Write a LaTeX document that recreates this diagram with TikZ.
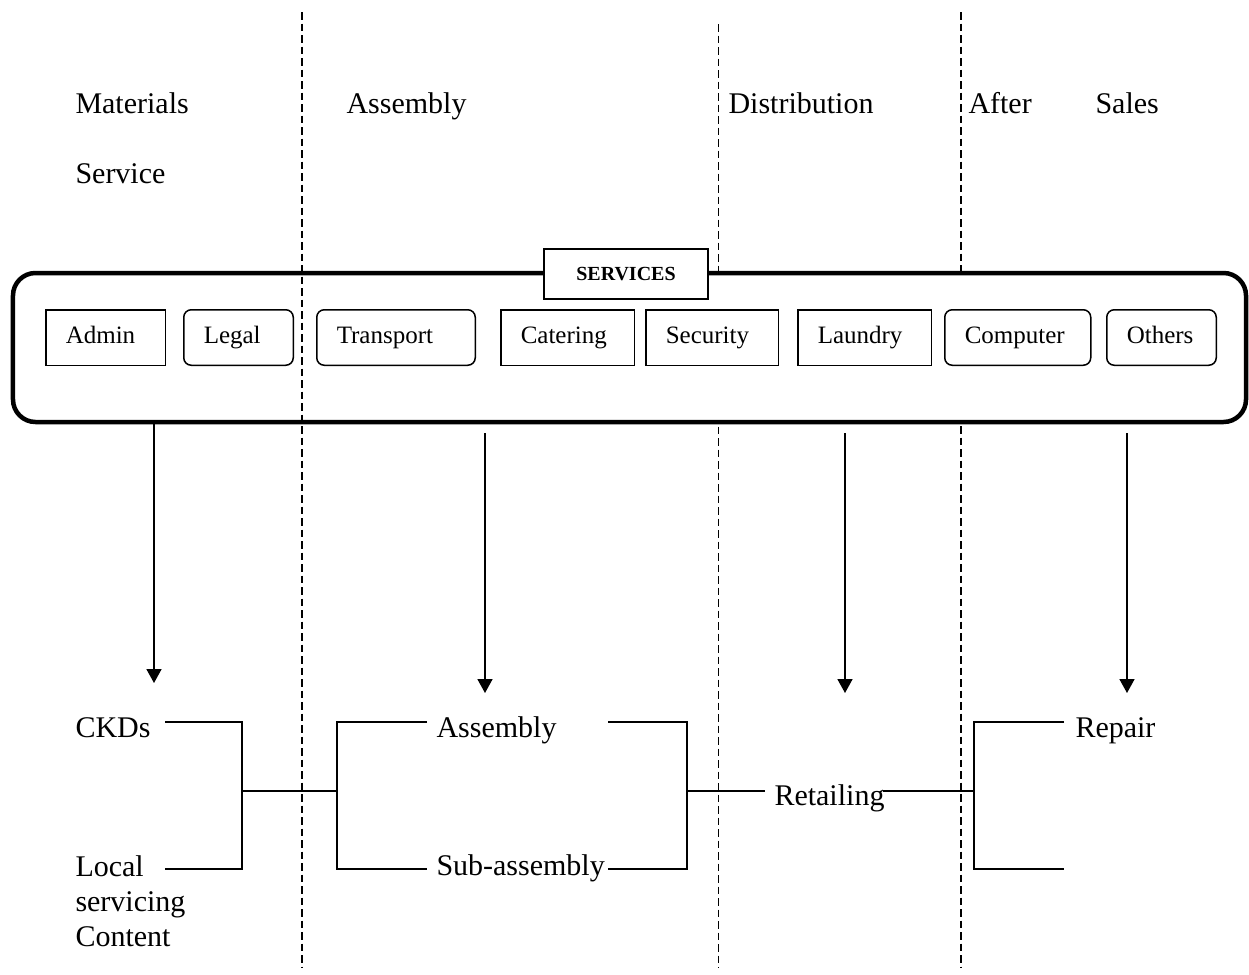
\documentclass[tikz,border=0pt]{standalone}
\usepackage{fontspec}
\setmainfont{Liberation Serif}
\usetikzlibrary{arrows.meta}

\begin{document}
\begin{tikzpicture}[x=0.4pt,y=-0.4pt,
    lbl/.style={inner sep=0pt, anchor=base west, font=\fontsize{12}{14}\selectfont},
    svcbox/.style={draw, line width=0.6pt, anchor=west, inner xsep=8pt, inner ysep=0pt,
        minimum height=22.2pt, text width=#1, text height=7pt, text depth=2.5pt,
        align=left, font=\fontsize{10}{12}\selectfont},
    rbox/.style={svcbox=#1, rounded corners=3pt},
    link/.style={line width=0.8pt},
    arr/.style={line width=0.7pt, -{Triangle[length=5.6pt,width=6pt]}},
    lane/.style={dash pattern=on 3pt off 1.6pt, line width=0.5pt}]
    \useasboundingbox (0,0) rectangle (1249,975);
    \coordinate (l1t) at (302,12);
    \coordinate (l1b) at (302,968);
    \coordinate (l2t) at (718,24);
    \coordinate (l2b) at (718,968);
    \coordinate (l3t) at (961,12);
    \coordinate (l3b) at (961,968);
    \draw[lane, line width=0.4pt] (l2t) -- (l2b);
    \draw[lane] (l3t) -- (l3b);
    \node[lbl] (mat) at (75,113) {Materials};
    \node[lbl] (serv) at (75,183) {Service};
    \node[lbl] (asmh) at (346,113) {Assembly};
    \node[lbl] (dist) at (728,113) {Distribution};
    \node[lbl] (after) at (968,113) {After};
    \node[lbl] (sales) at (1095,113) {Sales};
    \node[draw, line width=1.8pt, rounded corners=9pt, fill=white, inner sep=0pt,
        minimum width=493.2pt, minimum height=59.6pt] (svc) at (629.5,347.5) {};
    \draw[lane] (l1t) -- (l1b);
    \node[draw, fill=white, line width=0.8pt, inner sep=0pt, minimum width=65.6pt,
        minimum height=20pt, font=\fontsize{8}{10}\selectfont\bfseries] (svchd) at (626,274) {SERVICES};
    \node[svcbox=31.8pt] (admin) at (45,337.5) {Admin};
    \node[rbox=27.8pt] (legal) at (183,337.5) {Legal};
    \node[rbox=47.4pt] (trans) at (316,337.5) {Transport};
    \node[svcbox=37.4pt] (cater) at (500,337.5) {Catering};
    \node[svcbox=37pt] (secur) at (645,337.5) {Security};
    \node[svcbox=37.4pt] (laund) at (797,337.5) {Laundry};
    \node[rbox=42.4pt] (comp) at (944,337.5) {Computer};
    \node[rbox=27.8pt] (other) at (1106,337.5) {Others};
    \coordinate (a1) at (154,683);
    \coordinate (a2s) at (485,433);
    \coordinate (a2) at (485,693);
    \coordinate (a3s) at (845,433);
    \coordinate (a3) at (845,693);
    \coordinate (a4s) at (1127,433);
    \coordinate (a4) at (1127,693);
    \draw[arr] (svc.south -| a1) -- (a1);
    \draw[arr] (a2s) -- (a2);
    \draw[arr] (a3s) -- (a3);
    \draw[arr] (a4s) -- (a4);
    \node[lbl] (ckd) at (75,737) {CKDs};
    \node[lbl, anchor=north west, align=left] (loc) at (75,855) {Local\\servicing\\Content};
    \node[lbl] (asm) at (436,737) {Assembly};
    \node[lbl] (sub) at (436,875) {Sub-assembly};
    \node[lbl] (ret) at (774,805) {Retailing};
    \node[lbl] (rep) at (1075,737) {Repair};
    \coordinate (ckdR) at (165,722);
    \coordinate (locR) at (165,869);
    \coordinate (jA) at (242,791);
    \coordinate (jB) at (337,791);
    \coordinate (asmL) at (427,722);
    \coordinate (subL) at (427,869);
    \coordinate (asmR) at (608,722);
    \coordinate (subR) at (608,869);
    \coordinate (jC) at (687,791);
    \coordinate (retL) at (765,791);
    \coordinate (retR) at (883,791);
    \coordinate (jD) at (974,791);
    \coordinate (repT) at (1064,722);
    \coordinate (repB) at (1064,869);
    \draw[link] (ckdR) -| (jA) |- (locR);
    \draw[link] (jA) -- (jB);
    \draw[link] (asmL) -| (jB) |- (subL);
    \draw[link] (asmR) -| (jC) |- (subR);
    \draw[link] (jC) -- (retL);
    \draw[link] (retR) -- (jD);
    \draw[link] (repT) -| (jD) |- (repB);
\end{tikzpicture}
\end{document}
